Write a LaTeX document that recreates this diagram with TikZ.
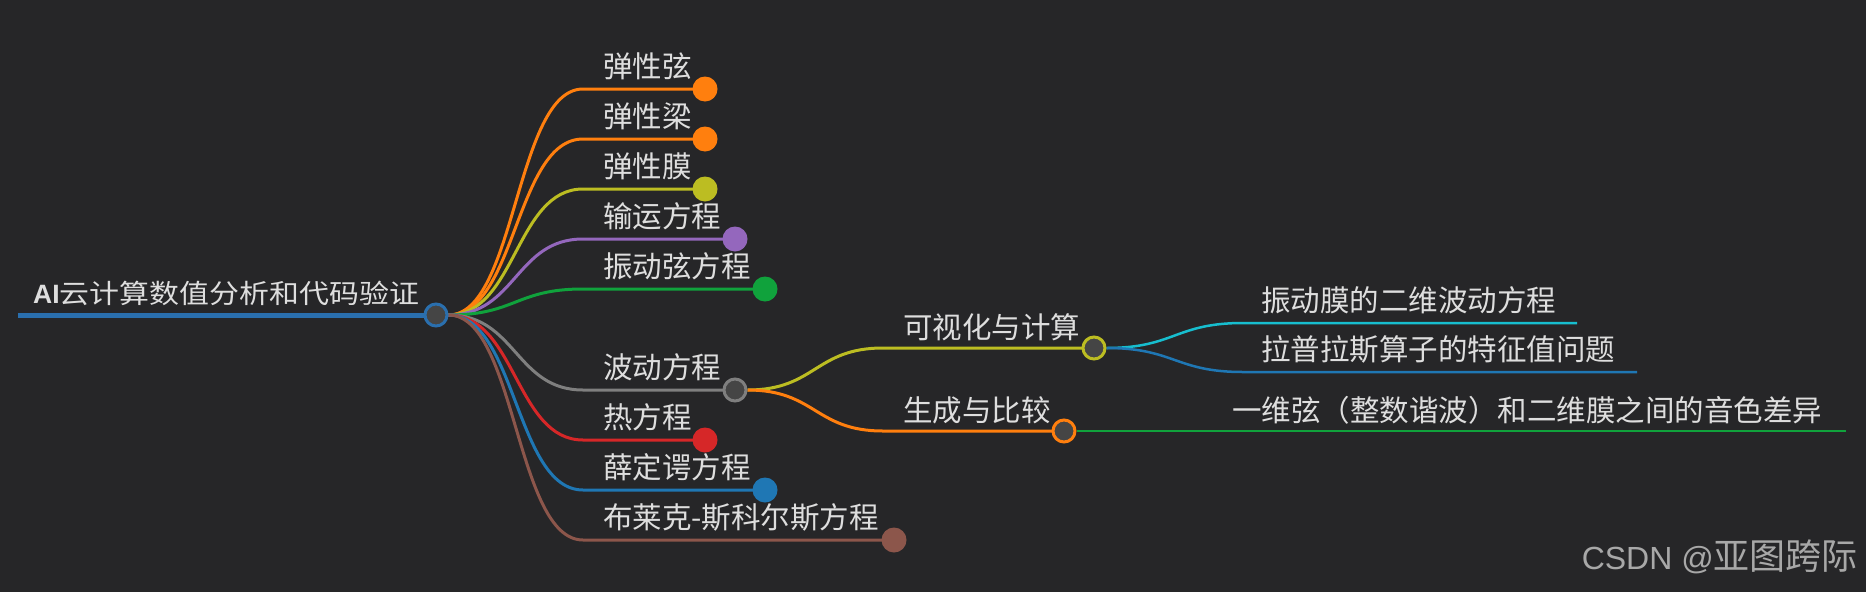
\documentclass[tikz,border=0pt]{standalone}
\usepackage{fontspec}
\newfontfamily\cjk{Noto Sans CJK SC}
\newfontfamily\cjkwide[FakeStretch=1.13]{Noto Sans CJK SC}
\newfontfamily\latin{Liberation Sans}
\definecolor{bgc}{HTML}{262628}
\definecolor{txt}{HTML}{DEDEDE}
\definecolor{wm}{HTML}{A8A8A8}
\definecolor{hubfill}{HTML}{454545}
\definecolor{corange}{HTML}{FF7F0E}
\definecolor{cygreen}{HTML}{BCBD22}
\definecolor{cpurple}{HTML}{9467BD}
\definecolor{cgreen}{HTML}{10A23C}
\definecolor{cgray}{HTML}{7F7F7F}
\definecolor{cred}{HTML}{D62728}
\definecolor{cblue}{HTML}{1F77B4}
\definecolor{cbrown}{HTML}{8C564B}
\definecolor{ccyan}{HTML}{17BECF}
\definecolor{croot}{HTML}{2A6FAE}
\pgfdeclarelayer{bg}
\pgfdeclarelayer{links}
\pgfsetlayers{bg,links,main}
\tikzset{
  lbl/.style={anchor=west, inner sep=0pt, text=txt, font=\cjk\fontsize{29.5}{30}\selectfont},
  dot/.style={circle, inner sep=0pt, minimum size=25pt, fill=#1},
  hub/.style={circle, inner sep=0pt, minimum size=22pt, line width=3pt, fill=hubfill, draw=#1},
  link/.style={line width=3pt, draw=#1},
  leafline/.style={line width=2.5pt, draw=#1},
}
\begin{document}
\begin{tikzpicture}[x=1pt,y=-1pt]
\begin{pgfonlayer}{bg}
\fill[bgc] (0,0) rectangle (1866,592);
\end{pgfonlayer}
\useasboundingbox (0,0) rectangle (1866,592);

% root
\coordinate (rs) at (18,315);
\node[hub=croot] (root) at (436,315) {};
\node[anchor=west, inner sep=0pt, text=txt] (rootlbl) at (33,293.5)
  {{\latin\bfseries\fontsize{26.5}{28}\selectfont AI}{\cjkwide\fontsize{26.5}{28}\selectfont 云计算数值分析和代码验证}};

% level 1 coordinates and dots
\coordinate (h1) at (583,89);
\coordinate (h2) at (583,139);
\coordinate (h3) at (583,189);
\coordinate (h4) at (583,239);
\coordinate (h5) at (583,289);
\coordinate (h6) at (583,390);
\coordinate (h7) at (583,440);
\coordinate (h8) at (583,490);
\coordinate (h9) at (583,540);
\node[dot=corange] (d1) at (705,89) {};
\node[dot=corange] (d2) at (705,139) {};
\node[dot=cygreen] (d3) at (705,189) {};
\node[dot=cpurple] (d4) at (735,239) {};
\node[dot=cgreen] (d5) at (765,289) {};
\node[hub=cgray] (d6) at (735,390) {};
\node[dot=cred] (d7) at (705,440) {};
\node[dot=cblue] (d8) at (765,490) {};
\node[dot=cbrown] (d9) at (894,540) {};

\node[lbl] (t1) at (603,66) {弹性弦};
\node[lbl] (t2) at (603,116) {弹性梁};
\node[lbl] (t3) at (603,166) {弹性膜};
\node[lbl] (t4) at (603,216) {输运方程};
\node[lbl] (t5) at (603,266) {振动弦方程};
\node[lbl] (t6) at (603,367) {波动方程};
\node[lbl] (t7) at (603,417) {热方程};
\node[lbl] (t8) at (603,467) {薛定谔方程};
\node[lbl] (t9) at (603,517) {布莱克-斯科尔斯方程};

% level 2
\coordinate (g1) at (883,348);
\coordinate (g2) at (883,431);
\node[hub=cygreen] (e1) at (1094,348) {};
\node[hub=corange] (e2) at (1064,431) {};
\node[lbl] (u1) at (903,327) {可视化与计算};
\node[lbl] (u2) at (903,410) {生成与比较};

% level 3
\coordinate (k1) at (1243,323);
\coordinate (k1e) at (1577,323);
\coordinate (k2) at (1243,372);
\coordinate (k2e) at (1637,372);
\coordinate (k3e) at (1846,431);
\node[lbl] (v1) at (1261,300.5) {振动膜的二维波动方程};
\node[lbl] (v2) at (1261,349.5) {拉普拉斯算子的特征值问题};
\node[lbl] (v3) at (1232,410) {一维弦（整数谐波）和二维膜之间的音色差异};

% watermark
\node[anchor=east, inner sep=0pt, text=wm] (wmk) at (1858,557)
  {{\latin\fontsize{32}{33}\selectfont CSDN @}{\cjk\fontsize{36}{37}\selectfont 亚图跨际}};

\begin{pgfonlayer}{links}
\draw[line width=5pt, draw=croot] (rs) -- (root.center);
\draw[link=corange] (root.east) .. controls +(67.5,0) and +(-67.5,0) .. (h1) -- (d1.center);
\draw[link=corange] (root.east) .. controls +(67.5,0) and +(-67.5,0) .. (h2) -- (d2.center);
\draw[link=cygreen] (root.east) .. controls +(67.5,0) and +(-67.5,0) .. (h3) -- (d3.center);
\draw[link=cpurple] (root.east) .. controls +(67.5,0) and +(-67.5,0) .. (h4) -- (d4.center);
\draw[link=cgreen] (root.east) .. controls +(67.5,0) and +(-67.5,0) .. (h5) -- (d5.center);
\draw[link=cgray] (root.east) .. controls +(67.5,0) and +(-67.5,0) .. (h6) -- (d6.center);
\draw[link=cred] (root.east) .. controls +(67.5,0) and +(-67.5,0) .. (h7) -- (d7.center);
\draw[link=cblue] (root.east) .. controls +(67.5,0) and +(-67.5,0) .. (h8) -- (d8.center);
\draw[link=cbrown] (root.east) .. controls +(67.5,0) and +(-67.5,0) .. (h9) -- (d9.center);
\draw[link=cygreen] (d6.east) .. controls +(68,0) and +(-68,0) .. (g1) -- (e1.center);
\draw[link=corange] (d6.east) .. controls +(68,0) and +(-68,0) .. (g2) -- (e2.center);
\draw[leafline=ccyan] (e1.east) .. controls +(68,0) and +(-68,0) .. (k1) -- (k1e);
\draw[leafline=cblue] (e1.east) .. controls +(68,0) and +(-68,0) .. (k2) -- (k2e);
\draw[leafline=cgreen] (e2.east) -- (k3e);
\end{pgfonlayer}
\end{tikzpicture}
\end{document}
